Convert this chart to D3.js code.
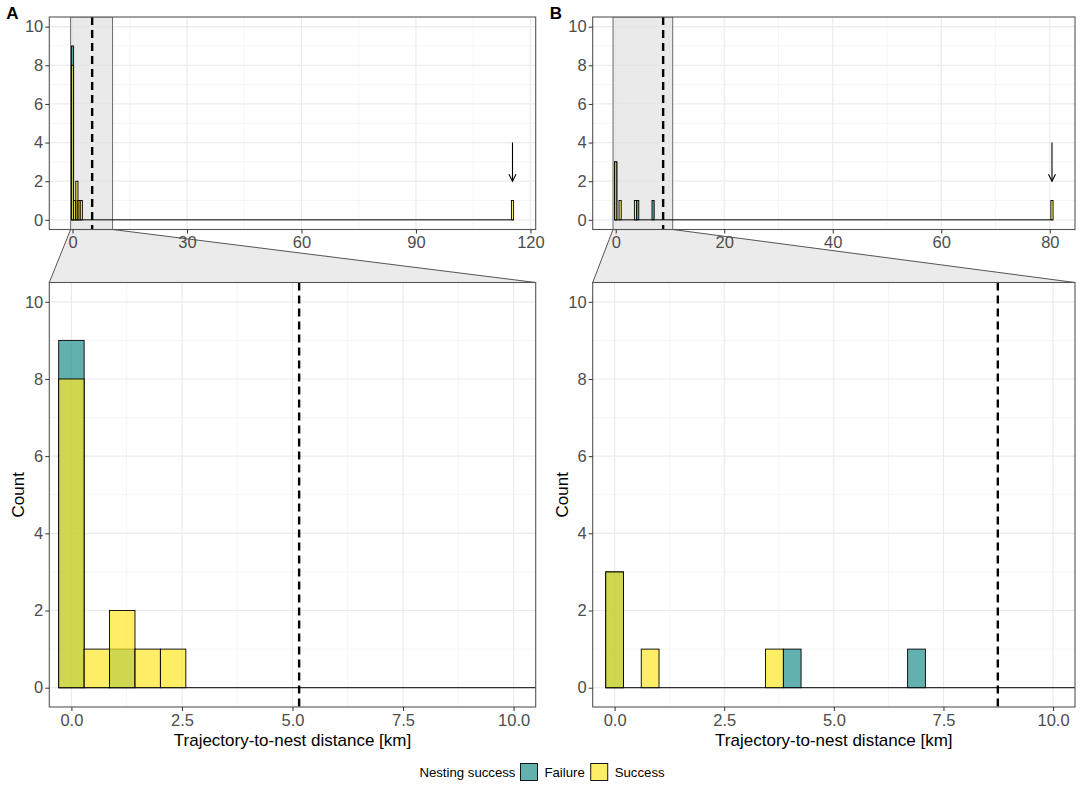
<!DOCTYPE html>
<html>
<head>
<meta charset="utf-8">
<script src="https://cdn.jsdelivr.net/npm/d3@7"></script>
<style>
  body { margin: 0; background: #fff; }
  text { font-family: "Liberation Sans", Arial, sans-serif; }
</style>
</head>
<body>
<svg width="1084" height="785"></svg>
<script>
// histogram bins (bin centre + count per group)
var binWidthA = 0.575;
var centersA = [0, 0.575, 1.15, 1.725, 2.3, 115.3];
var failureA = [9, 0, 1, 0, 0, 0];
var successA = [8, 1, 2, 1, 1, 1];
var thresholdA = 5.15;

var binWidthB = 0.405;
var centersB = [0, 0.81, 3.645, 4.05, 6.885, 80.4];
var failureB = [3, 0, 0, 1, 1, 0];
var successB = [3, 1, 1, 0, 0, 1];
var thresholdB = 8.74;

// arrow pointing at the far outlier: [x, from count, to count]
var arrowA = [115.3, 4, 2];
var arrowB = [80.4, 4, 2];

var topTicksA = [0, 30, 60, 90, 120];
var topTicksB = [0, 20, 40, 60, 80];
var zoomTicks = [0, 2.5, 5, 7.5, 10];
var countTicks = [0, 2, 4, 6, 8, 10];
var zoomLimits = [0, 10];
var countLimits = [0, 10];

var groups = ["Failure", "Success"];
var groupColors = ["#21908C", "#FDE725"];

var svg = d3.select("svg");
var color = d3.scaleOrdinal().domain(groups).range(groupColors);

// ggplot style 5% padding
function expand(lims) {
  var pad = (lims[1] - lims[0]) * 0.05;
  return [lims[0] - pad, lims[1] + pad];
}

function makeBars(centers, failure, success, bw) {
  var bars = [];
  groups.forEach(function(grp, gi) {
    var counts = gi == 0 ? failure : success;
    centers.forEach(function(c, i) {
      if (counts[i] > 0) bars.push({ group: grp, x0: c - bw / 2, x1: c + bw / 2, count: counts[i] });
    });
  });
  return bars;
}

function minorTicks(ticks, domain) {
  var step = ticks[1] - ticks[0];
  var out = [];
  for (var v = ticks[0] - step / 2; v <= ticks[ticks.length - 1] + step / 2 + 1e-9; v += step) {
    if (v >= domain[0] && v <= domain[1]) out.push(v);
  }
  return out;
}

var clipCount = 0;

function panel(opt) {
  var x = d3.scaleLinear().domain(opt.xDomain).range([opt.left, opt.right]);
  var y = d3.scaleLinear().domain(expand(countLimits)).range([opt.bottom, opt.top]);
  var g = svg.append("g");

  clipCount++;
  var clipId = "clip" + clipCount;
  g.append("clipPath").attr("id", clipId)
    .append("rect")
    .attr("x", opt.left).attr("y", opt.top)
    .attr("width", opt.right - opt.left).attr("height", opt.bottom - opt.top);

  var inner = g.append("g").attr("clip-path", "url(#" + clipId + ")");

  inner.append("rect")
    .attr("x", opt.left).attr("y", opt.top)
    .attr("width", opt.right - opt.left).attr("height", opt.bottom - opt.top)
    .attr("fill", "#fff");

  // grid lines
  var yMinor = minorTicks(countTicks, y.domain());
  var xMinor = minorTicks(opt.ticks, x.domain());
  inner.selectAll(".ymin").data(yMinor).enter().append("line")
    .attr("x1", opt.left).attr("x2", opt.right)
    .attr("y1", function(d) { return y(d); }).attr("y2", function(d) { return y(d); })
    .attr("stroke", "#f3f3f3").attr("stroke-width", 0.8);
  inner.selectAll(".xmin").data(xMinor).enter().append("line")
    .attr("y1", opt.top).attr("y2", opt.bottom)
    .attr("x1", function(d) { return x(d); }).attr("x2", function(d) { return x(d); })
    .attr("stroke", "#f3f3f3").attr("stroke-width", 0.8);
  inner.selectAll(".ymaj").data(countTicks).enter().append("line")
    .attr("x1", opt.left).attr("x2", opt.right)
    .attr("y1", function(d) { return y(d); }).attr("y2", function(d) { return y(d); })
    .attr("stroke", "#ebebeb").attr("stroke-width", 1.2);
  inner.selectAll(".xmaj").data(opt.ticks).enter().append("line")
    .attr("y1", opt.top).attr("y2", opt.bottom)
    .attr("x1", function(d) { return x(d); }).attr("x2", function(d) { return x(d); })
    .attr("stroke", "#ebebeb").attr("stroke-width", 1.2);

  // shaded zoom window on the overview panels
  if (opt.shade) {
    var z = expand(zoomLimits);
    inner.append("rect")
      .attr("x", x(z[0])).attr("y", opt.top)
      .attr("width", x(z[1]) - x(z[0])).attr("height", opt.bottom - opt.top)
      .attr("fill", "#e3e3e3").attr("fill-opacity", 0.75)
      .attr("stroke", "#6b6b6b").attr("stroke-width", 1);
  }

  // zero-count bins show as a line along 0
  var allX = opt.bars.map(function(d) { return d.x0; }).concat(opt.bars.map(function(d) { return d.x1; }));
  inner.append("line")
    .attr("x1", x(d3.min(allX))).attr("x2", x(d3.max(allX)))
    .attr("y1", y(0)).attr("y2", y(0))
    .attr("stroke", "#000").attr("stroke-width", 1);

  inner.selectAll(".bar").data(opt.bars).enter().append("rect")
    .attr("x", function(d) { return x(d.x0); })
    .attr("width", function(d) { return x(d.x1) - x(d.x0); })
    .attr("y", function(d) { return y(d.count); })
    .attr("height", function(d) { return y(0) - y(d.count); })
    .attr("fill", function(d) { return color(d.group); })
    .attr("fill-opacity", 0.7)
    .attr("stroke", "#000").attr("stroke-width", 0.9);

  // threshold
  inner.append("line")
    .attr("x1", x(opt.threshold)).attr("x2", x(opt.threshold))
    .attr("y1", opt.top).attr("y2", opt.bottom)
    .attr("stroke", "#000").attr("stroke-width", 2.4)
    .attr("stroke-dasharray", "8,5");

  if (opt.arrow) {
    var ax = x(opt.arrow[0]), ay1 = y(opt.arrow[1]), ay2 = y(opt.arrow[2]);
    inner.append("line")
      .attr("x1", ax).attr("x2", ax).attr("y1", ay1).attr("y2", ay2)
      .attr("stroke", "#000").attr("stroke-width", 1.1);
    inner.append("path")
      .attr("d", "M" + (ax - 3.5) + "," + (ay2 - 7) + "L" + ax + "," + ay2 + "L" + (ax + 3.5) + "," + (ay2 - 7))
      .attr("fill", "none").attr("stroke", "#000").attr("stroke-width", 1.1);
  }

  g.append("rect")
    .attr("x", opt.left).attr("y", opt.top)
    .attr("width", opt.right - opt.left).attr("height", opt.bottom - opt.top)
    .attr("fill", "none").attr("stroke", "#555").attr("stroke-width", 1.1);

  // axes
  var yAxis = g.append("g")
    .attr("transform", "translate(" + opt.left + ",0)")
    .call(d3.axisLeft(y).tickValues(countTicks).tickSize(4).tickPadding(2));
  var xAxis = g.append("g")
    .attr("transform", "translate(0," + opt.bottom + ")")
    .call(d3.axisBottom(x).tickValues(opt.ticks).tickSize(4).tickPadding(3).tickFormat(opt.format));
  [yAxis, xAxis].forEach(function(a) {
    a.attr("font-size", null).attr("font-family", null);
    a.select(".domain").remove();
    a.selectAll(".tick line").attr("stroke", "#333");
    a.selectAll(".tick text")
      .attr("fill", "#4d4d4d")
      .style("font-size", "16.5px");
  });

  if (opt.xTitle) {
    g.append("text")
      .attr("x", (opt.left + opt.right) / 2).attr("y", opt.bottom + 39)
      .attr("text-anchor", "middle")
      .style("font-size", "17px")
      .text(opt.xTitle);
    g.append("text")
      .attr("transform", "translate(" + (opt.left - 25) + "," + ((opt.top + opt.bottom) / 2) + ") rotate(-90)")
      .attr("text-anchor", "middle")
      .style("font-size", "17px")
      .text("Count");
  }
  return x;
}

function facet(label, left, right, centers, failure, success, bw, threshold, arrow, topTicks) {
  var bars = makeBars(centers, failure, success, bw);
  var dataRange = [d3.min(bars, function(d) { return d.x0; }), d3.max(bars, function(d) { return d.x1; })];
  var topBottom = 229.5, zoomTop = 282.5;

  // connector between overview and zoomed panel (drawn first, sits behind)
  var z = expand(zoomLimits);
  var tmpX = d3.scaleLinear().domain(expand(dataRange)).range([left, right]);
  svg.append("polygon")
    .attr("points", [[tmpX(z[0]), topBottom], [tmpX(z[1]), topBottom], [right, zoomTop], [left, zoomTop]].join(" "))
    .attr("fill", "#ebebeb").attr("stroke", "#555").attr("stroke-width", 1);

  panel({
    left: left, right: right, top: 17, bottom: topBottom,
    xDomain: expand(dataRange), ticks: topTicks, format: d3.format("d"),
    bars: bars, threshold: threshold, arrow: arrow, shade: true
  });
  panel({
    left: left, right: right, top: zoomTop, bottom: 707,
    xDomain: expand(zoomLimits), ticks: zoomTicks, format: d3.format(".1f"),
    bars: bars, threshold: threshold, xTitle: "Trajectory-to-nest distance [km]"
  });

  svg.append("text")
    .attr("x", left - 43).attr("y", 19)
    .style("font-size", "17px").style("font-weight", "bold")
    .text(label);
}

facet("A", 49.3, 535.7, centersA, failureA, successA, binWidthA, thresholdA, arrowA, topTicksA);
facet("B", 592.7, 1075, centersB, failureB, successB, binWidthB, thresholdB, arrowB, topTicksB);

// legend along the bottom
var legend = svg.append("g").attr("transform", "translate(0,772)");
var cursor = 0;
var title = legend.append("text").attr("x", 0).attr("y", 4.5)
  .style("font-size", "13.2px").text("Nesting success");
cursor = title.node().getComputedTextLength() + 5;
groups.forEach(function(grp) {
  legend.append("rect")
    .attr("x", cursor).attr("y", -8.5).attr("width", 17).attr("height", 17)
    .attr("fill", color(grp)).attr("fill-opacity", 0.7)
    .attr("stroke", "#000").attr("stroke-width", 0.9);
  var t = legend.append("text").attr("x", cursor + 24).attr("y", 4.5)
    .style("font-size", "13.2px").text(grp);
  cursor += 24 + t.node().getComputedTextLength() + 6;
});
legend.attr("transform", "translate(" + (542 - (cursor - 6) / 2) + ",772)");
</script>
</body>
</html>
